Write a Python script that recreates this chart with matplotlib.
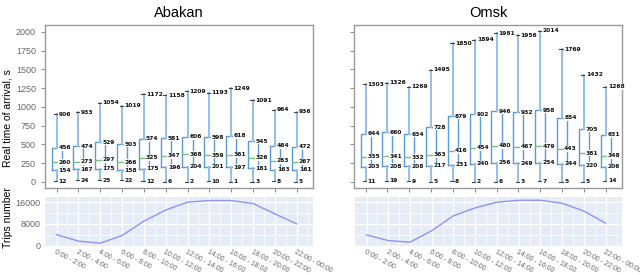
import matplotlib
matplotlib.use("Agg")
import matplotlib.pyplot as plt
from matplotlib.ticker import MultipleLocator

cities = ["Abakan", "Omsk"]
time_labels = ["0:00 - 2:00", "2:00 - 4:00", "4:00 - 6:00", "6:00 - 8:00",
               "8:00 - 10:00", "10:00 - 12:00", "12:00 - 14:00", "14:00 - 16:00",
               "16:00 - 18:00", "18:00 - 20:00", "20:00 - 22:00", "22:00 - 00:00"]

abakan_max = [906, 933, 1054, 1019, 1172, 1158, 1209, 1193, 1249, 1091, 964, 936]
abakan_q3 = [456, 474, 529, 503, 574, 581, 606, 598, 618, 545, 484, 472]
abakan_med = [260, 273, 297, 266, 325, 347, 368, 359, 361, 326, 283, 267]
abakan_q1 = [154, 167, 175, 158, 175, 196, 204, 201, 197, 181, 163, 161]
abakan_min = [12, 24, 25, 22, 12, 6, 2, 10, 1, 3, 8, 5]

omsk_max = [1303, 1326, 1269, 1495, 1850, 1894, 1981, 1956, 2014, 1769, 1432, 1268]
omsk_q3 = [644, 660, 634, 728, 879, 902, 946, 932, 958, 854, 705, 631]
omsk_med = [335, 341, 332, 363, 416, 454, 480, 467, 479, 443, 381, 348]
omsk_q1 = [203, 208, 208, 217, 231, 240, 256, 249, 254, 244, 220, 206]
omsk_min = [11, 19, 9, 5, 8, 2, 6, 3, 7, 5, 5, 14]

abakan_trips = [4050, 1650, 900, 3700, 9000, 13100, 16000, 16600, 16600, 15500, 11700, 8000]
omsk_trips = [3950, 1850, 1250, 5500, 11000, 13900, 16000, 16700, 16700, 15600, 12700, 8250]

box_data = {
    "Abakan": (abakan_max, abakan_q3, abakan_med, abakan_q1, abakan_min),
    "Omsk": (omsk_max, omsk_q3, omsk_med, omsk_q1, omsk_min),
}
trip_data = {"Abakan": abakan_trips, "Omsk": omsk_trips}

fig = plt.figure(figsize=(6.4, 2.75), dpi=100)
W, H = 640, 275

def rect(l, t, r, b):
    return [l / W, 1 - b / H, (r - l) / W, (b - t) / H]

top_rects = {"Abakan": rect(45, 25, 313, 188), "Omsk": rect(354, 25, 622, 188)}
bot_rects = {"Abakan": rect(45, 197, 313, 246), "Omsk": rect(355, 197, 622, 246)}

positions = list(range(1, 13))
grey = "#666666"

for ci, city in enumerate(cities):
    ax = fig.add_axes(top_rects[city])
    mx, q3, md, q1, mn = box_data[city]
    stats = []
    for i in range(12):
        stats.append(dict(med=md[i], q1=q1[i], q3=q3[i], whislo=mn[i], whishi=mx[i], fliers=[]))
    ax.bxp(stats, positions=positions, widths=0.46, showfliers=False,
           boxprops=dict(color="#5b9bd5", lw=1.0),
           whiskerprops=dict(color="#94bfe8", lw=1.4),
           capprops=dict(color="#444444", lw=0.8),
           medianprops=dict(color="#74c274", lw=1.0))
    for i, p in enumerate(positions):
        for v in (mx[i], q3[i], md[i], q1[i], mn[i]):
            ax.text(p + 0.1, v, str(v), fontsize=4.3, ha="left", va="center",
                    color="#111111", family="DejaVu Sans", fontweight="semibold",
                    bbox=dict(fc="white", ec="none", pad=0.4), zorder=5)
    ax.set_xlim(0.47, 12.75)
    ax.set_ylim(-80, 2093)
    ax.yaxis.set_major_locator(MultipleLocator(250))
    ax.set_xticks(positions)
    ax.set_xticklabels([])
    for s in ax.spines.values():
        s.set_color("#999999")
        s.set_linewidth(1.0)
    ax.tick_params(axis="both", colors="#777777", length=3, width=0.6,
                   labelsize=6.5, labelcolor=grey)
    if ci == 0:
        for lab in ax.get_yticklabels():
            lab.set_family("Liberation Sans")
    else:
        ax.set_yticklabels([])
    ax.set_title(city, fontsize=10.5, family="Liberation Sans", pad=6)

    bx = fig.add_axes(bot_rects[city])
    bx.set_facecolor("#e5ecf6")
    for s in bx.spines.values():
        s.set_visible(False)
    bx.plot(positions, trip_data[city], color="#8f94f2", lw=1.0, zorder=3)
    bx.set_xlim(0.47, 12.75)
    bx.set_ylim(-150, 17900)
    bx.set_yticks([0, 8000, 16000])
    bx.set_yticks([4000, 12000], minor=True)
    bx.set_xticks(positions)
    bx.set_xticks([p + 0.5 for p in positions], minor=True)
    bx.grid(True, which="major", color="white", lw=1.0)
    bx.grid(True, which="minor", color="white", lw=0.5)
    bx.set_axisbelow(True)
    bx.tick_params(axis="both", which="both", length=0, labelsize=6.5, labelcolor=grey)
    bx.tick_params(axis="x", which="major", labelsize=5.0, pad=2)
    bx.set_xticklabels(time_labels, rotation=-28, ha="left", va="top",
                       rotation_mode="anchor", family="Liberation Sans")
    if ci == 0:
        for lab in bx.get_yticklabels():
            lab.set_family("Liberation Sans")
    else:
        bx.set_yticklabels([])

fig.text(8 / W, 1 - 118 / H, "Real time of arrival, s", rotation=90, ha="center",
         va="center", fontsize=7.5, family="Liberation Sans")
fig.text(8 / W, 1 - 218 / H, "Trips number", rotation=90, ha="center",
         va="center", fontsize=7.5, family="Liberation Sans")

fig.savefig("out.png", dpi=100)
